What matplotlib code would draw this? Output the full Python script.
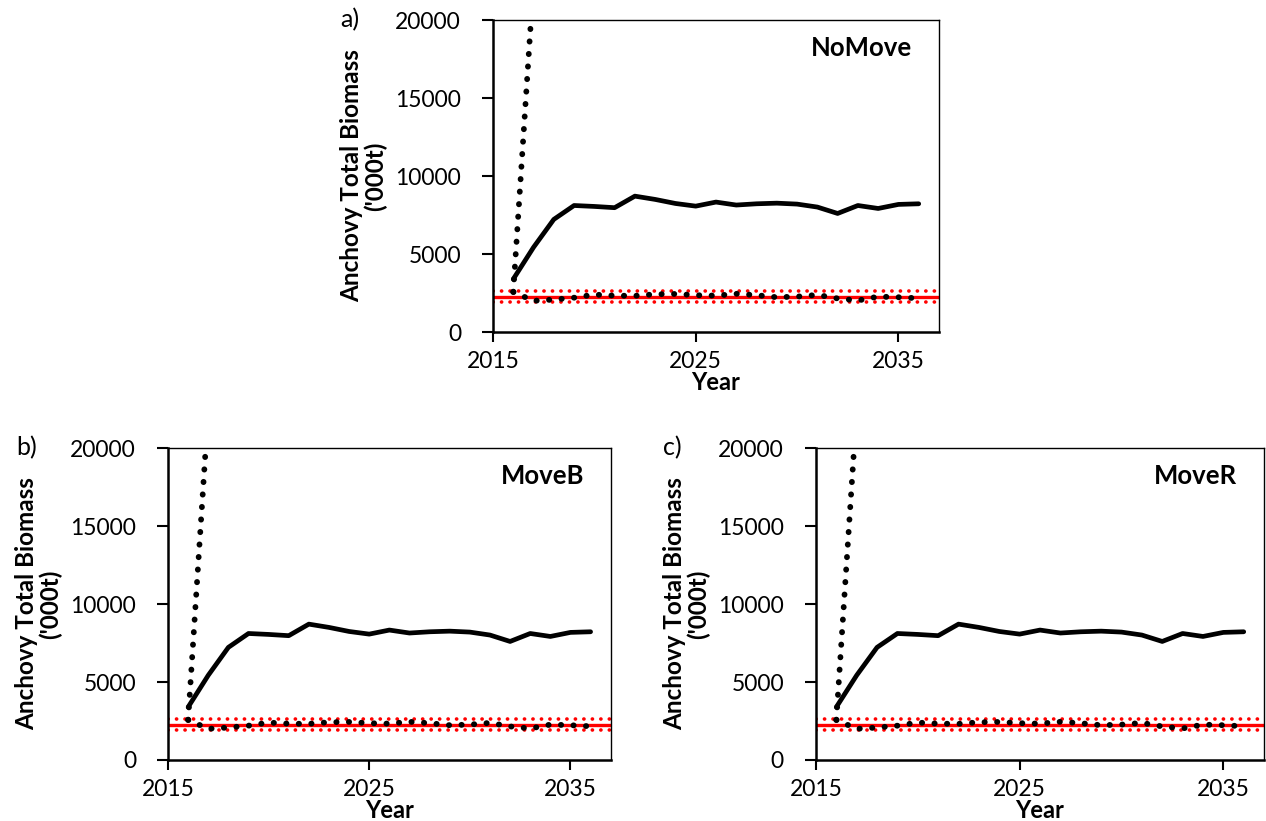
import numpy as np
import matplotlib
matplotlib.use("Agg")
from matplotlib import pyplot as plt

plt.rcParams['font.family'] = ['Lato', 'DejaVu Sans']

years = list(range(2016, 2037))
biomass = [3390, 5430, 7220, 8110, 8050, 7970, 8710, 8500, 8240, 8070, 8330,
           8140, 8220, 8260, 8200, 8010, 7600, 8110, 7920, 8180, 8220]
low_dotted = [2570, 2000, 2080, 2200, 2400, 2330, 2320, 2420, 2440, 2360, 2330,
              2450, 2360, 2230, 2270, 2380, 2150, 2020, 2270, 2230, 2160]
high_years = [2016, 2017]
high_dotted = [2570, 22500]
ref_level = 2220
ref_upper = 2620
ref_lower = 1900

panels = ["NoMove", "MoveB", "MoveR"]
letters = ["a)", "b)", "c)"]
positions = [[0.3894, 0.5956, 0.3523, 0.3800],
             [0.1327, 0.0743, 0.3497, 0.3800],
             [0.6445, 0.0743, 0.3540, 0.3800]]

fig = plt.figure(figsize=(12.66, 8.21), dpi=100)

for name, letter, pos in zip(panels, letters, positions):
    ax = fig.add_axes(pos)
    ax.axhline(ref_level, color='#ff0000', lw=2.4, zorder=2)
    for lvl in [ref_upper, ref_lower]:
        ax.axhline(lvl, color='#ff0000', lw=2.6, linestyle=(0, (0.05, 2.3)),
                   dash_capstyle='round', zorder=2)
    ax.plot(years, low_dotted, color='black', lw=4.2, linestyle=(0, (0.05, 2.1)),
            dash_capstyle='round', zorder=3)
    ax.plot(high_years, high_dotted, color='black', lw=4.2, linestyle=(0, (0.05, 2.1)),
            dash_capstyle='round', zorder=3)
    ax.plot(years, biomass, color='black', lw=3.4, solid_capstyle='round', zorder=4)

    ax.set_xlim(2015, 2037)
    ax.set_ylim(0, 20000)
    ax.set_xticks([2015, 2025, 2035])
    ax.set_yticks([0, 5000, 10000, 15000, 20000])
    ax.tick_params(labelsize=16.5, direction='out', width=1.5)
    ax.tick_params(axis='x', length=7, pad=7)
    ax.tick_params(axis='y', length=8, pad=15)
    for s in ['top', 'right']:
        ax.spines[s].set_linewidth(1.0)
    for s in ['left', 'bottom']:
        ax.spines[s].set_linewidth(1.8)

    ax.set_xlabel("Year", fontsize=17, fontweight='bold', labelpad=-1)
    ax.set_ylabel("Anchovy Total Biomass\n('000t)", fontsize=17.5, fontweight='bold',
                  labelpad=6, linespacing=1.0)
    ax.text(0.94, 0.91, name, transform=ax.transAxes, ha='right', va='center',
            fontsize=18.5, fontweight='bold')
    ax.text(-0.32, 1.0, letter, transform=ax.transAxes, ha='center', va='center',
            fontsize=18)

fig.savefig("out.png", dpi=100)
